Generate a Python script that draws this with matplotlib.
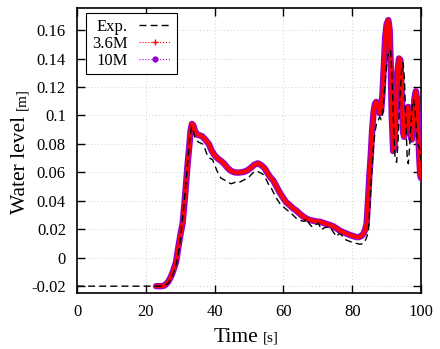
import matplotlib
matplotlib.use("Agg")
import matplotlib.pyplot as plt
from matplotlib.lines import Line2D

plt.rcParams['font.family'] = ['Liberation Serif', 'DejaVu Serif']

# ---------------- data ----------------
exp_t = [0, 24.0, 25.5, 26.5, 27.5, 28.5, 29.3, 30.0, 30.8, 31.5, 32.2, 32.8, 33.3, 33.7,
         34.2, 34.6, 35.5, 36.5, 37.3, 38.0, 38.5, 39.4, 40.2, 40.9, 41.8, 42.9, 43.8,
         44.8, 45.5, 46.3, 47.2, 48.0, 48.8, 49.7, 50.5, 51.3, 52.1, 53.0, 54.0, 55.0,
         55.8, 56.5, 57.3, 58.2, 59.0, 59.9, 60.8, 61.9, 62.8, 63.6, 64.5, 65.2, 66.0,
         66.7, 67.5, 68.2, 68.7, 69.5, 70.2, 71.1, 71.8, 72.5, 73.3, 74.0, 74.8, 75.4,
         76.2, 76.9, 77.6, 78.3, 79.3, 80.3, 81.3, 82.3, 83.3, 84.0, 84.7, 85.1, 85.6,
         86.1, 86.6, 87.2, 87.6, 88.0, 88.4, 88.8, 89.3, 89.8, 90.3, 90.8, 91.2, 91.6,
         92.0, 92.4, 92.9, 93.3, 93.8, 94.3, 94.8, 95.2, 95.6, 96.0, 96.3, 96.7, 97.1,
         97.5, 97.8, 98.2, 98.6, 99.0, 99.4, 99.7, 100.0]
exp_y = [-0.020, -0.020, -0.0198, -0.018, -0.014, -0.008, 0.000, 0.012, 0.030, 0.048,
         0.068, 0.084, 0.092, 0.090, 0.085, 0.0827, 0.081, 0.080, 0.076, 0.071, 0.070,
         0.069, 0.064, 0.060, 0.056, 0.0546, 0.053, 0.052, 0.0525, 0.0535, 0.053, 0.054,
         0.055, 0.0558, 0.058, 0.060, 0.061, 0.060, 0.0588, 0.055, 0.051, 0.0488, 0.045,
         0.041, 0.038, 0.036, 0.034, 0.032, 0.030, 0.028, 0.0265, 0.026, 0.0255, 0.0277,
         0.024, 0.022, 0.0218, 0.0235, 0.0241, 0.0195, 0.021, 0.0213, 0.022, 0.020, 0.017,
         0.0148, 0.017, 0.016, 0.0135, 0.0124, 0.0115, 0.0105, 0.010, 0.0095, 0.010, 0.013,
         0.018, 0.035, 0.058, 0.0757, 0.088, 0.096, 0.0968, 0.099, 0.097, 0.100, 0.115,
         0.130, 0.141, 0.146, 0.145, 0.125, 0.095, 0.072, 0.067, 0.080, 0.110, 0.130, 0.137,
         0.125, 0.095, 0.070, 0.066, 0.078, 0.095, 0.108, 0.111, 0.105, 0.092, 0.080, 0.078,
         0.0757, 0.068]

sim_t = [23.0, 24.5, 25.5, 26.5, 27.3, 28.0, 28.8, 29.5, 30.2, 30.7, 31.3, 31.7, 32.2,
         32.7, 33.0, 33.4, 33.8, 34.3, 35.0, 36.3, 37.3, 38.3, 39.2, 40.0, 41.0, 41.9,
         42.8, 43.8, 44.8, 45.8, 46.8, 47.7, 48.7, 49.7, 50.7, 51.6, 52.6, 53.6, 54.5,
         55.5, 56.2, 57.0, 58.0, 58.9, 59.8, 60.8, 61.8, 62.8, 63.8, 64.7, 65.7, 66.7,
         67.6, 68.6, 69.6, 70.6, 71.6, 72.5, 73.5, 74.5, 75.4, 76.4, 77.3, 78.3, 79.3,
         80.3, 81.2, 82.0, 82.8, 83.3, 83.8, 84.2, 84.6, 85.0, 85.4, 85.8, 86.2, 86.6,
         87.0, 87.5, 88.0, 88.4, 88.8, 89.2, 89.6, 90.0, 90.5, 90.9, 91.2, 91.5, 91.9,
         92.3, 92.7, 93.1, 93.6, 94.0, 94.4, 94.8, 95.1, 95.5, 95.9, 96.3, 96.6, 97.0,
         97.3, 97.7, 98.1, 98.5, 98.8, 99.1, 99.5, 99.8, 100.0]
sim36_y = [-0.020, -0.020, -0.0195, -0.017, -0.0134, -0.009, -0.003, 0.008, 0.018, 0.024,
           0.040, 0.052, 0.067, 0.080, 0.089, 0.094, 0.093, 0.089, 0.0865, 0.0855, 0.083,
           0.080, 0.075, 0.072, 0.0695, 0.068, 0.066, 0.063, 0.061, 0.060, 0.0598, 0.060,
           0.0605, 0.0616, 0.0635, 0.0655, 0.0663, 0.065, 0.063, 0.059, 0.0565, 0.0545,
           0.050, 0.046, 0.0425, 0.039, 0.037, 0.0347, 0.033, 0.031, 0.029, 0.0275, 0.0265,
           0.026, 0.0255, 0.0253, 0.0245, 0.0237, 0.023, 0.022, 0.0207, 0.019, 0.018, 0.017,
           0.016, 0.0152, 0.0145, 0.0145, 0.0155, 0.017, 0.020, 0.024, 0.040, 0.058, 0.072,
           0.090, 0.102, 0.108, 0.1095, 0.106, 0.1015, 0.103, 0.115, 0.135, 0.155, 0.164,
           0.167, 0.160, 0.135, 0.100, 0.075, 0.078, 0.105, 0.130, 0.140, 0.139, 0.115,
           0.088, 0.085, 0.095, 0.104, 0.106, 0.100, 0.087, 0.083, 0.095, 0.112, 0.117,
           0.112, 0.095, 0.070, 0.058, 0.056]
sim10_y = list(sim36_y)

xticks = [0, 20, 40, 60, 80, 100]
yticks = [-0.02, 0, 0.02, 0.04, 0.06, 0.08, 0.1, 0.12, 0.14, 0.16]
ytick_labels = ['-0.02', '0', '0.02', '0.04', '0.06', '0.08', '0.1', '0.12', '0.14', '0.16']
labels = ['Exp.', '3.6M', '10M']

# ---------------- figure ----------------
fig = plt.figure(figsize=(4.4, 3.49), dpi=100)
ax = fig.add_axes([77/440, 56/349, 344/440, 285/349])

ax.plot(sim_t, sim10_y, color='#9400d3', lw=4.6, solid_capstyle='round', zorder=3)
ax.plot(sim_t, sim36_y, color='#ff0000', lw=2.8, solid_capstyle='round', zorder=4)
ax.plot(exp_t, exp_y, color='black', lw=1.0, linestyle=(0, (5, 3)), zorder=5)

ax.set_xlim(0, 100)
ax.set_ylim(-0.0248, 0.1755)
ax.set_xticks(xticks)
ax.set_xticklabels([str(v) for v in xticks])
ax.set_yticks(yticks)
ax.set_yticklabels(ytick_labels)
ax.tick_params(direction='in', length=6, width=1, top=True, right=True,
               labelsize=12, pad=8, colors='black')
ax.grid(True, linestyle=(0, (1, 2.5)), color='#cfcfcf', lw=0.7)
for s in ax.spines.values():
    s.set_linewidth(1.2)
    s.set_color('black')

# axis labels with smaller unit text
ax.text(0.526, -0.171, 'Time', transform=ax.transAxes, ha='right', va='baseline', fontsize=15.5)
ax.text(0.541, -0.171, '[s]', transform=ax.transAxes, ha='left', va='baseline', fontsize=11)
ax.text(-0.151, 0.622, 'Water level', transform=ax.transAxes, rotation=90,
        rotation_mode='anchor', ha='right', va='baseline', fontsize=15.5)
ax.text(-0.151, 0.642, '[m]', transform=ax.transAxes, rotation=90,
        rotation_mode='anchor', ha='left', va='baseline', fontsize=11)

handles = [
    Line2D([], [], color='black', lw=1.0, linestyle=(0, (5, 3))),
    Line2D([], [], color='#ff0000', lw=0.8, linestyle=':', marker='+', markersize=4),
    Line2D([], [], color='#9400d3', lw=0.8, linestyle=':', marker='o', markersize=3.5),
]
leg = ax.legend(handles, labels, loc='upper left', bbox_to_anchor=(0.026, 0.982),
                borderaxespad=0, markerfirst=False, fancybox=False, fontsize=12,
                handlelength=1.9, handletextpad=0.7, labelspacing=0.05,
                borderpad=0.35, numpoints=1, framealpha=1)
leg.get_frame().set_edgecolor('black')
leg.get_frame().set_linewidth(0.8)

fig.savefig('out.png', dpi=100)
